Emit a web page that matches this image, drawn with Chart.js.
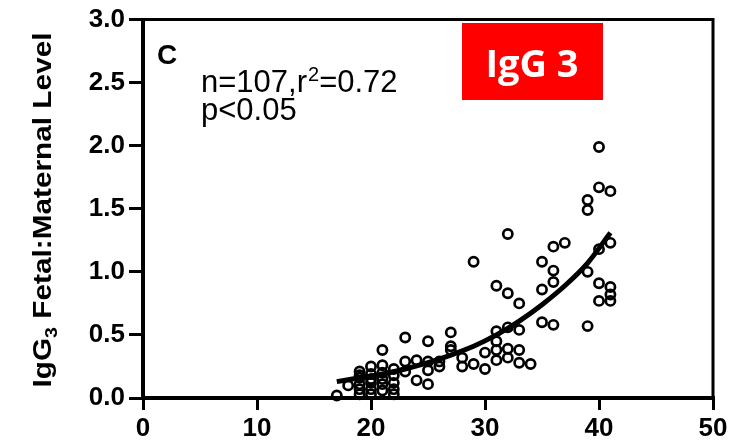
<!DOCTYPE html>
<html>
<head>
<meta charset="utf-8">
<script src="https://cdn.jsdelivr.net/npm/chart.js@4/dist/chart.umd.min.js"></script>
<style>
  html, body { margin: 0; padding: 0; background: #fff; }
  #wrap { width: 738px; height: 446px; }
</style>
</head>
<body>
<div id="wrap"><canvas id="chart" width="738" height="446"></canvas></div>
<script>
// gestational age (weeks) and IgG3 fetal:maternal ratio
var ageWeeks = [17, 18,
  19, 19, 19, 19, 19, 19,
  20, 20, 20, 20, 20, 20,
  21, 21, 21, 21, 21, 21,
  22, 22, 22, 22, 22,
  23, 23, 23, 24, 24,
  25, 25, 25, 25, 26, 26,
  27, 27, 27, 28, 28, 29, 29,
  30, 30, 31, 31, 31, 31, 31,
  32, 32, 32, 32, 32, 33, 33, 33, 33, 34,
  35, 35, 35, 36, 36, 36, 36, 37,
  39, 39, 39, 39, 40, 40, 40, 40, 40,
  41, 41, 41, 41, 41];
var ratio = [0.02, 0.10,
  0.21, 0.16, 0.11, 0.07, 0.03, 0.18,
  0.25, 0.19, 0.12, 0.07, 0.03, 0.15,
  0.38, 0.26, 0.20, 0.11, 0.06, 0.15,
  0.23, 0.18, 0.12, 0.07, 0.03,
  0.48, 0.29, 0.21, 0.30, 0.14,
  0.45, 0.29, 0.22, 0.11, 0.29, 0.25,
  0.52, 0.41, 0.38, 0.32, 0.25, 1.08, 0.27,
  0.23, 0.36, 0.89, 0.53, 0.45, 0.38, 0.30,
  1.30, 0.83, 0.56, 0.39, 0.32, 0.75, 0.54, 0.38, 0.28, 0.27,
  1.08, 0.86, 0.60, 1.20, 1.01, 0.92, 0.58, 1.23,
  1.57, 1.49, 1.00, 0.57, 1.99, 1.67, 1.18, 0.91, 0.77,
  1.64, 1.23, 0.88, 0.82, 0.77];

// fitted curve as drawn in the figure
var fitWeeks = [17, 19, 21, 23, 25, 27, 29, 31, 33, 35, 37, 39, 41];
var fitRatio = [0.13, 0.16, 0.19, 0.23, 0.28, 0.34, 0.41, 0.50, 0.61, 0.74, 0.89, 1.07, 1.31];

var xTicks = [0, 10, 20, 30, 40, 50];
var yTicks = [0, 0.5, 1, 1.5, 2, 2.5, 3];

var scatterPts = ageWeeks.map(function (a, i) { return { x: a, y: ratio[i] }; });
var fitPts = fitWeeks.map(function (a, i) { return { x: a, y: fitRatio[i] }; });

var decor = {
  id: 'decor',
  afterDraw: function (chart) {
    var ctx = chart.ctx;
    var area = chart.chartArea;
    ctx.save();

    // top and right frame
    ctx.strokeStyle = '#000';
    ctx.lineWidth = 3;
    ctx.beginPath();
    ctx.moveTo(area.left, area.top);
    ctx.lineTo(area.right, area.top);
    ctx.lineTo(area.right, area.bottom);
    ctx.stroke();

    // y axis title with subscript
    ctx.fillStyle = '#000';
    ctx.textBaseline = 'alphabetic';
    ctx.textAlign = 'left';
    var big = 'bold 26px "Liberation Sans", Arial, sans-serif';
    var small = 'bold 17px "Liberation Sans", Arial, sans-serif';
    ctx.font = big;
    var w1 = ctx.measureText('IgG').width;
    var w3 = ctx.measureText(' Fetal:Maternal Level').width;
    ctx.font = small;
    var w2 = ctx.measureText('3').width;
    var total = w1 + w2 + w3;
    var target = 355;
    ctx.translate(51, 210);
    ctx.rotate(-Math.PI / 2);
    ctx.scale(target / total, 1);
    var x0 = -total / 2;
    ctx.font = big;
    ctx.fillText('IgG', x0, 0);
    ctx.font = small;
    ctx.fillText('3', x0 + w1, 6);
    ctx.font = big;
    ctx.fillText(' Fetal:Maternal Level', x0 + w1 + w2, 0);
    ctx.setTransform(1, 0, 0, 1, 0, 0);

    // panel letter and stats
    ctx.font = 'bold 28px "Liberation Sans", Arial, sans-serif';
    ctx.fillText('C', 157, 64);
    var reg = '31px "Liberation Sans", Arial, sans-serif';
    ctx.font = reg;
    var t1 = 'n=107,r';
    ctx.fillText(t1, 201, 92);
    var tx = 201 + ctx.measureText(t1).width;
    ctx.font = '20px "Liberation Sans", Arial, sans-serif';
    ctx.fillText('2', tx + 1, 81);
    tx += ctx.measureText('2').width + 1;
    ctx.font = reg;
    ctx.fillText('=0.72', tx, 92);
    ctx.fillText('p<0.05', 201, 120);

    // red label box
    ctx.fillStyle = '#ff0000';
    ctx.fillRect(462, 23, 141, 77);
    ctx.fillStyle = '#fff';
    ctx.font = 'bold 38px "Open Sans", sans-serif';
    ctx.textAlign = 'center';
    ctx.fillText('IgG 3', 532, 77);
    ctx.restore();
  }
};

new Chart(document.getElementById('chart'), {
  type: 'scatter',
  data: {
    datasets: [{
      type: 'line',
      data: fitPts,
      borderColor: '#000',
      borderWidth: 5,
      pointRadius: 0,
      fill: false,
      tension: 0.4,
      cubicInterpolationMode: 'monotone'
    }, {
      data: scatterPts,
      pointRadius: 4.6,
      pointBorderWidth: 2.7,
      pointBorderColor: '#000',
      pointBackgroundColor: 'rgba(0,0,0,0)',
      showLine: false,
      clip: false
    }]
  },
  options: {
    responsive: false,
    animation: false,
    events: [],
    layout: { padding: { top: 18, right: 25, left: 0, bottom: 0 } },
    plugins: { legend: { display: false }, tooltip: { enabled: false } },
    scales: {
      x: {
        type: 'linear',
        min: 0,
        max: 50,
        afterFit: function (s) { s.height = 48; },
        afterBuildTicks: function (s) { s.ticks = xTicks.map(function (v) { return { value: v }; }); },
        border: { display: true, color: '#000', width: 4 },
        grid: { drawOnChartArea: false, drawTicks: true, tickLength: 12, color: '#000', lineWidth: 3 },
        ticks: {
          color: '#000',
          padding: 3,
          font: { family: '"Liberation Sans", Arial, sans-serif', size: 26, weight: 'bold' },
          callback: function (v) { return v; }
        }
      },
      y: {
        type: 'linear',
        min: 0,
        max: 3,
        afterFit: function (s) { s.width = 143; },
        afterBuildTicks: function (s) { s.ticks = yTicks.map(function (v) { return { value: v }; }); },
        border: { display: true, color: '#000', width: 4 },
        grid: { drawOnChartArea: false, drawTicks: true, tickLength: 14, color: '#000', lineWidth: 3 },
        ticks: {
          color: '#000',
          padding: 4,
          font: { family: '"Liberation Sans", Arial, sans-serif', size: 26, weight: 'bold' },
          callback: function (v) { return Number(v).toFixed(1); }
        }
      }
    }
  },
  plugins: [decor]
});
</script>
</body>
</html>
